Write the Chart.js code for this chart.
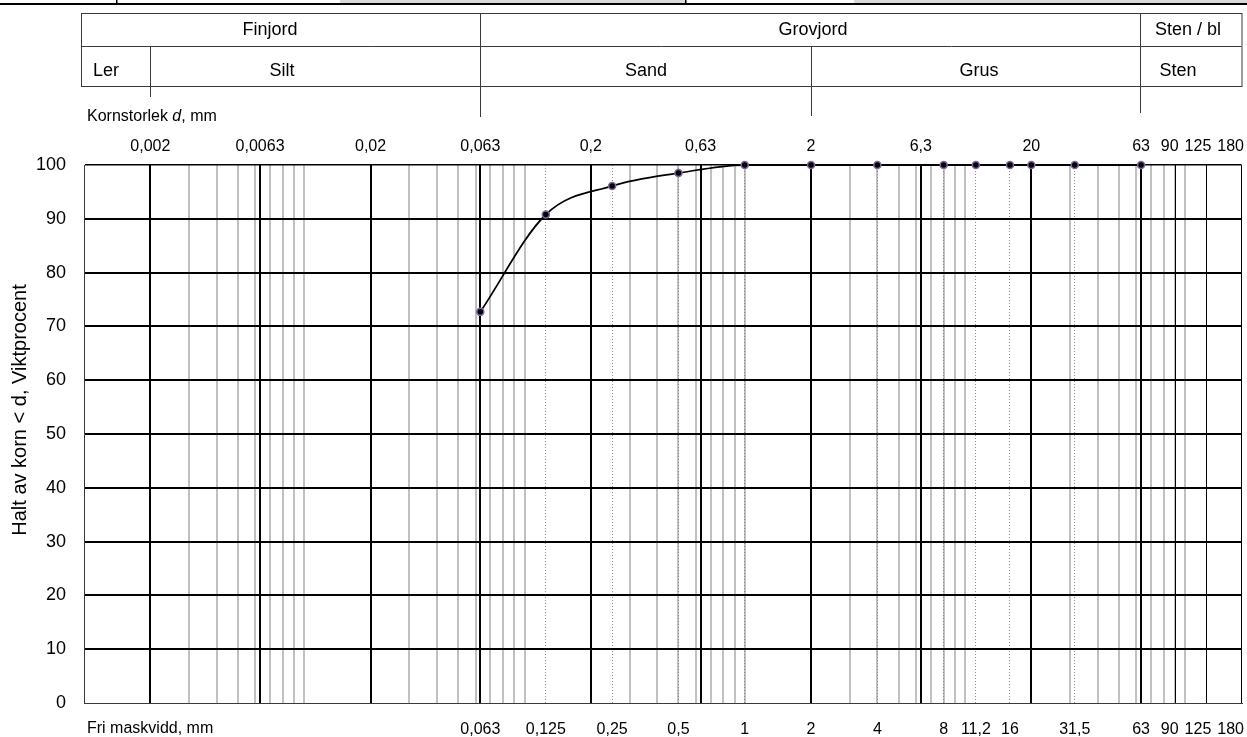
<!DOCTYPE html>
<html>
<head>
<meta charset="utf-8">
<script src="https://cdn.jsdelivr.net/npm/chart.js@4.4.1/dist/chart.umd.min.js"></script>
<style>
  html, body { margin: 0; padding: 0; background: #fff; }
  #wrap { width: 1247px; height: 737px; }
</style>
</head>
<body>
<div id="wrap"><canvas id="kurva" width="1247" height="737"></canvas></div>
<script>
// Siktanalys: fri maskvidd (mm) och passerande mängd (viktprocent)
const sieveSizes = [0.063, 0.125, 0.25, 0.5, 1, 2, 4, 8, 11.2, 16, 20, 31.5, 63];
const passing = [72.7, 90.8, 96.1, 98.5, 100, 100, 100, 100, 100, 100, 100, 100, 100];

// rutnät och axeltexter
const majorLines = [0.002, 0.0063, 0.02, 0.063, 0.2, 0.63, 2, 6.3, 20, 63];
const thinLines = [90, 125, 180];
const minorLines = [
  0.003, 0.004, 0.005, 0.006, 0.007, 0.008, 0.009, 0.01,
  0.03, 0.04, 0.05, 0.06, 0.07, 0.08, 0.09, 0.1,
  0.3, 0.4, 0.5, 0.6, 0.7, 0.8, 0.9, 1,
  3, 4, 5, 6, 7, 8, 9, 10,
  30, 40, 50, 60, 70, 80, 90, 100
];
const sieveLines = [0.063, 0.125, 0.25, 0.5, 1, 2, 4, 8, 11.2, 16, 20, 31.5, 63];
const topLabels = [0.002, 0.0063, 0.02, 0.063, 0.2, 0.63, 2, 6.3, 20, 63, 90, 125, 180];
const bottomLabels = [0.063, 0.125, 0.25, 0.5, 1, 2, 4, 8, 11.2, 16, 31.5, 63, 90, 125, 180];
const yMin = 0, yMax = 100, yStep = 10;

const FONT = '"Liberation Sans", Arial, Helvetica, sans-serif';

function fmt(v) {
  return String(v).replace('.', ',');
}

// skriver etiketter längs en axel, flyttar åt vänster om de krockar i högerkanten
function drawAxisLabels(ctx, scale, values, y, rightLimit) {
  let limit = rightLimit;
  for (let i = values.length - 1; i >= 0; i--) {
    const text = fmt(values[i]);
    const w = ctx.measureText(text).width;
    const cx = Math.min(scale.getPixelForValue(values[i]), limit - w / 2);
    ctx.fillText(text, cx, y);
    limit = cx - w / 2 - 6;
  }
}

const decor = {
  id: 'decor',
  afterDraw(chart) {
    const ctx = chart.ctx;
    const x = chart.scales.x;
    const area = chart.chartArea;
    ctx.save();

    // avklippt remsa överst
    ctx.fillStyle = '#d9d9d9';
    ctx.fillRect(340, 0, 346, 3);
    ctx.fillRect(854, 0, 393, 3);
    ctx.fillStyle = '#000';
    ctx.fillRect(0, 3, 1247, 2);
    ctx.fillRect(116, 0, 1.5, 3);
    ctx.fillRect(685, 0, 1.5, 4);

    // fraktionstabell
    const tl = 81, tr = area.right, t1 = 13.5, t2 = 46.5, t3 = 86.5;
    ctx.strokeStyle = '#3a3a3a';
    ctx.lineWidth = 1;
    ctx.strokeRect(tl + 0.5, t1, tr - tl, t3 - t1);
    ctx.beginPath();
    ctx.moveTo(tl, t2); ctx.lineTo(tr, t2);
    const px = v => Math.round(x.getPixelForValue(v)) + 0.5;
    ctx.moveTo(px(0.002), t2); ctx.lineTo(px(0.002), 97);
    ctx.moveTo(px(0.063), t1); ctx.lineTo(px(0.063), 117);
    ctx.moveTo(px(2), t2); ctx.lineTo(px(2), 116);
    ctx.moveTo(px(63) - 1, t1); ctx.lineTo(px(63) - 1, 113);
    ctx.stroke();

    ctx.fillStyle = '#000';
    ctx.font = '18px ' + FONT;
    ctx.textAlign = 'center';
    ctx.textBaseline = 'alphabetic';
    ctx.fillText('Finjord', 270, 35);
    ctx.fillText('Grovjord', 813, 35);
    ctx.fillText('Sten / bl', 1188, 35);
    ctx.fillText('Ler', 106, 76);
    ctx.fillText('Silt', 282, 76);
    ctx.fillText('Sand', 646, 76);
    ctx.fillText('Grus', 979, 76);
    ctx.fillText('Sten', 1178, 76);

    // axeltexter
    ctx.font = '16px ' + FONT;
    ctx.textAlign = 'left';
    let tx = 87;
    ctx.fillText('Kornstorlek ', tx, 121);
    tx += ctx.measureText('Kornstorlek ').width;
    ctx.font = 'italic 16px ' + FONT;
    ctx.fillText('d', tx, 121);
    tx += ctx.measureText('d').width;
    ctx.font = '16px ' + FONT;
    ctx.fillText(', mm', tx, 121);
    ctx.fillText('Fri maskvidd, mm', 87, 733);

    ctx.textAlign = 'center';
    drawAxisLabels(ctx, x, topLabels, 151, 1244);
    drawAxisLabels(ctx, x, bottomLabels, 734, 1244);

    // y-axelns rubrik
    ctx.save();
    ctx.translate(20, 410);
    ctx.rotate(-Math.PI / 2);
    ctx.font = '20px ' + FONT;
    ctx.textBaseline = 'middle';
    ctx.fillText('Halt av korn < d, Viktprocent', 0, 0);
    ctx.restore();

    ctx.restore();
  }
};

const logAxis = (values, gridOpts, border) => ({
  type: 'logarithmic',
  position: 'bottom',
  min: 0.001,
  max: 180,
  afterBuildTicks: s => { s.ticks = values.map(v => ({ value: v })); },
  afterFit: s => { s.height = 0; },
  ticks: { display: false },
  grid: Object.assign({ drawTicks: false }, gridOpts),
  border: border
});

new Chart(document.getElementById('kurva'), {
  type: 'line',
  data: {
    datasets: [{
      label: 'Passerande mängd',
      data: sieveSizes.map((s, i) => ({ x: s, y: passing[i] })),
      xAxisID: 'x',
      yAxisID: 'y',
      borderColor: '#000',
      borderWidth: 1.75,
      cubicInterpolationMode: 'monotone',
      pointRadius: 3.5,
      pointBackgroundColor: '#000',
      pointBorderColor: '#8064a2',
      pointBorderWidth: 1.5,
      clip: false
    }]
  },
  options: {
    responsive: false,
    animation: false,
    devicePixelRatio: 1,
    layout: { padding: { left: 0, top: 165, right: 5, bottom: 34 } },
    plugins: {
      legend: { display: false },
      tooltip: { enabled: false }
    },
    scales: {
      xm: logAxis(minorLines, { color: '#c0c0c0', lineWidth: 2, z: -3 }, { display: false }),
      xs: logAxis(sieveLines, { color: '#8a8a8a', lineWidth: 1, z: -2 }, { display: false, dash: [1, 2] }),
      x: logAxis(majorLines.concat(thinLines), {
        color: '#000',
        lineWidth: c => thinLines.includes(c.tick.value) ? 1 : 2,
        z: -1
      }, { display: true, color: '#3a3a3a', width: 1 }),
      y: {
        min: yMin,
        max: yMax,
        afterFit: s => { s.width = 84; },
        ticks: {
          stepSize: yStep,
          color: '#000',
          padding: 18,
          font: { family: FONT, size: 18 }
        },
        grid: {
          drawTicks: false,
          color: c => c.tick.value === yMin ? '#3a3a3a' : '#000',
          lineWidth: c => c.tick.value === yMin ? 1 : (c.tick.value === yMax ? 1.5 : 2)
        },
        border: { display: true, color: '#3a3a3a', width: 1 }
      }
    }
  },
  plugins: [decor]
});
</script>
</body>
</html>
